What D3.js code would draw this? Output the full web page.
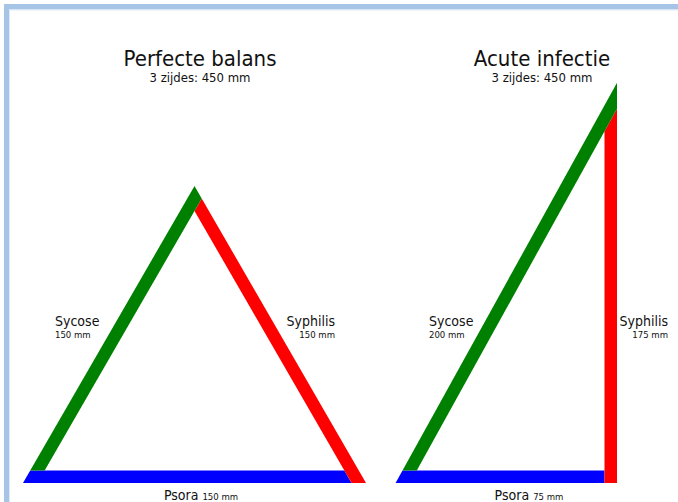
<!DOCTYPE html>
<html lang="nl">
<head>
<meta charset="UTF-8">
<title>Miasmen driehoek</title>
<script src="https://d3js.org/d3.v7.min.js"></script>
<style>
  body { margin: 0; background: #fff; }
  svg { display: block; font-family: "DejaVu Sans Condensed", "DejaVu Sans", sans-serif; font-stretch: condensed; fill: #111; }
  .title { font-size: 22px; }
  .sub { font-size: 13px; }
  .lbl { font-size: 14px; }
  .mm { font-size: 9.5px; }
</style>
</head>
<body>
<script>
// data (mm)
var titles = ["Perfecte balans", "Acute infectie"];
var subtitles = ["3 zijdes: 450 mm", "3 zijdes: 450 mm"];
var sideNames = ["Psora", "Syphilis", "Sycose"];
var psora = [150, 75];
var syphilis = [150, 175];
var sycose = [150, 200];

var width = 678, height = 502;
var colors = {Psora: "#0000ff", Syphilis: "#ff0000", Sycose: "#008000"};
var band = 12.5;

// layout per panel (px)
var layout = [
  {shape: "cosines", baseX: 23, baseY: 483, cx: 200, sycX: 55, syphX: 335, psoraX: 201},
  {shape: "right", rightX: 617, baseY: 483, cx: 542, sycX: 429, syphX: 668, psoraX: 529}
];

var mm = d3.scaleLinear().domain([0, 150]).range([0, 343]);

var svg = d3.select("body").append("svg")
  .attr("width", width).attr("height", height);

// page frame
svg.append("rect").attr("x", 4).attr("y", 4).attr("width", width).attr("height", 5.5).attr("fill", "#a6c4e6");
svg.append("rect").attr("x", 4).attr("y", 4).attr("width", 5).attr("height", height).attr("fill", "#a6c4e6");
svg.append("rect").attr("x", 9).attr("y", 9.5).attr("width", width).attr("height", 1).attr("fill", "#dfeaf6");
svg.append("rect").attr("x", 9).attr("y", 9.5).attr("width", 1).attr("height", height).attr("fill", "#dfeaf6");

function intersect(p, d, q, e) {
  var den = d[0] * e[1] - d[1] * e[0];
  var t = ((q[0] - p[0]) * e[1] - (q[1] - p[1]) * e[0]) / den;
  return [p[0] + t * d[0], p[1] + t * d[1]];
}

titles.forEach(function(t, k) {
  var L = layout[k];
  var a = psora[k], b = sycose[k], c = syphilis[k];
  // triangle in mm: BL, BR, apex
  var pts;
  if (L.shape === "right") {
    var w = Math.sqrt(b * b - c * c);
    pts = [[0, 0], [w, 0], [w, c]];
  } else {
    var ax = (b * b + a * a - c * c) / (2 * a);
    pts = [[0, 0], [a, 0], [ax, Math.sqrt(b * b - ax * ax)]];
  }
  var x0 = L.shape === "right" ? L.rightX - mm(pts[1][0]) : L.baseX;
  var V = pts.map(function(p) { return [x0 + mm(p[0]), L.baseY - mm(p[1])]; });
  var cen = [(V[0][0] + V[1][0] + V[2][0]) / 3, (V[0][1] + V[1][1] + V[2][1]) / 3];

  // outer and inner lines for each side
  var lines = V.map(function(p, i) {
    var q = V[(i + 1) % 3];
    var d = [q[0] - p[0], q[1] - p[1]];
    var len = Math.hypot(d[0], d[1]);
    var n = [-d[1] / len, d[0] / len];
    if ((cen[0] - p[0]) * n[0] + (cen[1] - p[1]) * n[1] < 0) n = [-n[0], -n[1]];
    return {p: p, d: d, ip: [p[0] + n[0] * band, p[1] + n[1] * band]};
  });

  var polys = lines.map(function(l, i) {
    var nx = lines[(i + 1) % 3], pv = lines[(i + 2) % 3];
    return [
      l.p,
      intersect(l.p, l.d, nx.ip, nx.d),
      intersect(l.ip, l.d, nx.ip, nx.d),
      intersect(l.ip, l.d, pv.p, pv.d)
    ];
  });

  var g = svg.append("g");
  g.selectAll("path").data(polys).join("path")
    .attr("d", function(p) { return "M" + p.join("L") + "Z"; })
    .attr("fill", function(p, i) { return colors[sideNames[i]]; });

  g.append("text").attr("class", "title").attr("x", L.cx).attr("y", 66)
    .attr("text-anchor", "middle").text(t);
  g.append("text").attr("class", "sub").attr("x", L.cx).attr("y", 82)
    .attr("text-anchor", "middle").text(subtitles[k]);

  g.append("text").attr("class", "lbl").attr("x", L.sycX).attr("y", 326).text("Sycose");
  g.append("text").attr("class", "mm").attr("x", L.sycX).attr("y", 338).text(b + " mm");

  g.append("text").attr("class", "lbl").attr("x", L.syphX).attr("y", 326)
    .attr("text-anchor", "end").text("Syphilis");
  g.append("text").attr("class", "mm").attr("x", L.syphX).attr("y", 338)
    .attr("text-anchor", "end").text(c + " mm");

  var ps = g.append("text").attr("class", "lbl").attr("x", L.psoraX).attr("y", 499.5)
    .attr("text-anchor", "middle");
  ps.append("tspan").text("Psora ");
  ps.append("tspan").attr("class", "mm").text(a + " mm");
});
</script>
</body>
</html>
